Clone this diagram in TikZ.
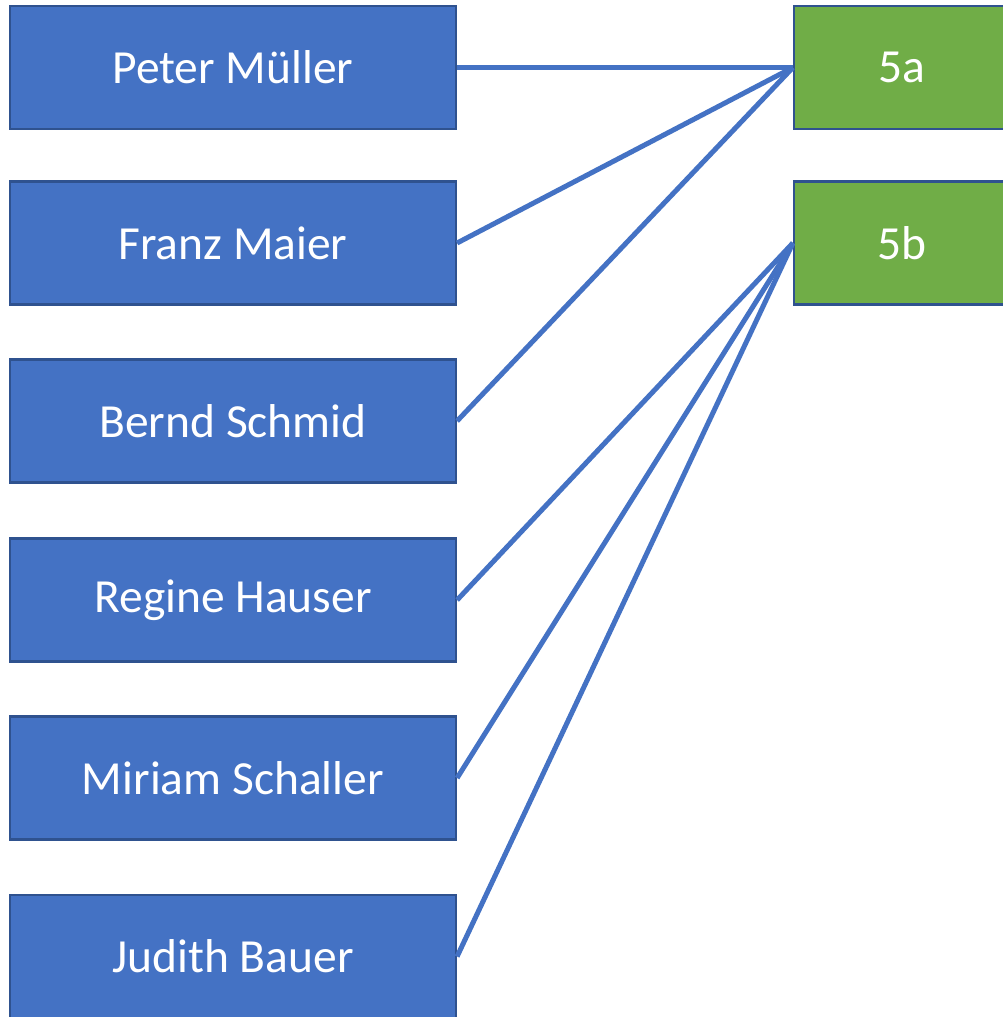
\documentclass[tikz,border=0pt]{standalone}
\usepackage{fontspec}
\setmainfont{Carlito}
\definecolor{boxblue}{HTML}{4472C4}
\definecolor{boxgreen}{HTML}{70AD47}
\definecolor{edgeblue}{HTML}{2F528F}
\begin{document}
\begin{tikzpicture}[x=1pt,y=-1pt,
  person/.style={draw=edgeblue, line width=2.2pt, fill=boxblue, text=white,
    minimum width=446pt, minimum height=123pt, inner sep=0pt,
    font=\fontsize{47.5}{56}\selectfont},
  klasse/.style={draw=edgeblue, line width=2.2pt, fill=boxgreen, text=white,
    minimum width=216pt, minimum height=123pt, inner sep=0pt,
    font=\fontsize{47.5}{56}\selectfont},
  link/.style={draw=boxblue, line width=5pt}]
\useasboundingbox (0,0) rectangle (1003,1017);
\clip (0,0) rectangle (1003,1017);
\fill[white] (0,0) rectangle (1003,1017);
\node[person] (p1) at (233,67.5) {Peter Müller};
\node[person] (p2) at (233,243) {Franz Maier};
\node[person] (p3) at (233,421) {Bernd Schmid};
\node[person] (p4) at (233,600) {Regine Hauser};
\node[person] (p5) at (233,778) {Miriam Schaller};
\node[person] (p6) at (233,956.5) {Judith Bauer};
\node[klasse] (k1) at (902,67.5) {5a};
\node[klasse] (k2) at (902,243) {5b};
\draw[link] (p1.east) -- (k1.west);
\draw[link] (p2.east) -- (k1.west);
\draw[link] (p3.east) -- (k1.west);
\draw[link] (p4.east) -- (k2.west);
\draw[link] (p5.east) -- (k2.west);
\draw[link] (p6.east) -- (k2.west);
\end{tikzpicture}
\end{document}
